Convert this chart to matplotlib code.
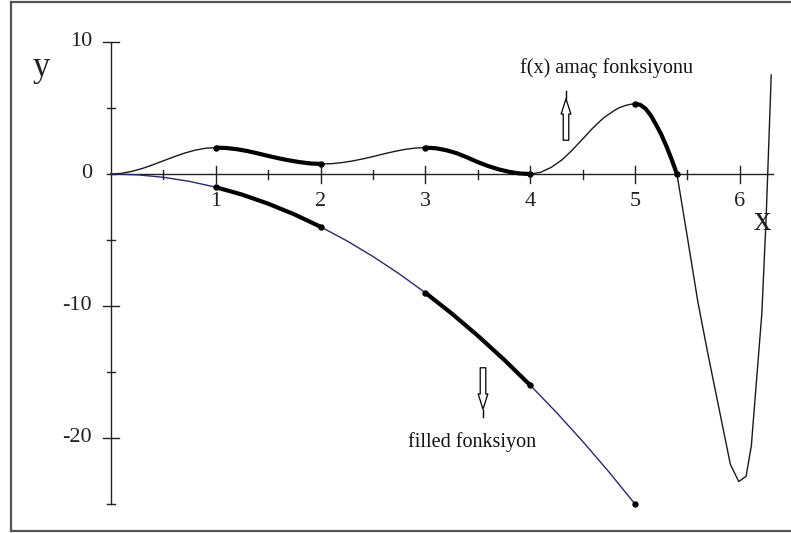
import numpy as np
import matplotlib
matplotlib.use("Agg")
import matplotlib.pyplot as plt
from matplotlib.lines import Line2D
from matplotlib.patches import FancyArrowPatch

plt.rcParams['font.family'] = ['Liberation Serif', 'DejaVu Serif']

# ---- data ----
upper_x = [0.0, 0.1, 0.2, 0.3, 0.4, 0.5, 0.6, 0.7, 0.8, 0.9,
           1.0, 1.1, 1.2, 1.3, 1.4, 1.5, 1.6, 1.7, 1.8, 1.9,
           2.0, 2.1, 2.2, 2.3, 2.4, 2.5, 2.6, 2.7, 2.8, 2.9,
           3.0, 3.1, 3.2, 3.3, 3.4, 3.5, 3.6, 3.7, 3.8, 3.9,
           4.0, 4.1, 4.2, 4.3, 4.4, 4.5, 4.6, 4.7, 4.8, 4.85, 4.9, 4.95,
           5.0, 5.05, 5.1, 5.15, 5.2, 5.25, 5.3, 5.35, 5.4, 5.45, 5.5, 5.6, 5.7, 5.8, 5.91,
           5.99, 6.06, 6.11, 6.16, 6.21, 6.25, 6.3]
upper_y = [0.0, 0.05, 0.2, 0.42, 0.7, 1.0, 1.3, 1.58, 1.8, 1.95,
           2.0, 1.97, 1.88, 1.74, 1.56, 1.37, 1.19, 1.03, 0.9, 0.8,
           0.76, 0.78, 0.86, 0.98, 1.14, 1.32, 1.52, 1.7, 1.86, 1.96,
           2.0, 1.95, 1.8, 1.57, 1.25, 0.9, 0.6, 0.35, 0.16, 0.04,
           0.0, 0.13, 0.5, 1.05, 1.8, 2.65, 3.5, 4.25, 4.8, 5.02, 5.17, 5.27,
           5.32, 5.24, 4.95, 4.45, 3.75, 3.0, 2.1, 1.1, 0.0, -2.4, -4.8, -9.7, -13.8, -17.7, -22.0,
           -23.3, -22.9, -20.6, -15.6, -10.6, -3.6, 7.5]

lower_x = [0.0, 0.25, 0.5, 0.75, 1.0, 1.25, 1.5, 1.75, 2.0, 2.25,
           2.5, 2.75, 3.0, 3.25, 3.5, 3.75, 4.0, 4.25, 4.5, 4.75, 5.0]
lower_y = [0.0, -0.06, -0.25, -0.56, -1.0, -1.56, -2.25, -3.06, -4.0, -5.06,
           -6.25, -7.56, -9.0, -10.56, -12.25, -14.06, -16.0, -18.06, -20.25, -22.56, -25.0]

upper_thick = [(1.0, 2.0), (3.0, 4.0), (5.0, 5.4)]
lower_thick = [(1.0, 2.0), (3.0, 4.0)]
upper_dots = [1.0, 2.0, 3.0, 4.0, 5.0, 5.4]
lower_dots = [1.0, 2.0, 3.0, 4.0, 5.0]

x_ticklabels = ['1', '2', '3', '4', '5', '6']
y_ticklabels = ['10', '0', '-10', '-20']
y_label_vals = [10, 0, -10, -20]

# ---- figure ----
W, H = 791, 533
fig = plt.figure(figsize=(W / 100, H / 100), dpi=100)
ax = fig.add_axes([0, 0, 1, 1])
ax.set_axis_off()
x0px, y0px = 111.0, 174.0
sx, sy = 104.8, 13.2
ax.set_xlim(-x0px / sx, (W - x0px) / sx)
ax.set_ylim((y0px - H) / sy, y0px / sy)

ux = np.array(upper_x); uy = np.array(upper_y)
lx = np.array(lower_x); ly = np.array(lower_y)

ax_col = '#222222'
# axes lines
ax.plot([0, 6.32], [0, 0], color=ax_col, lw=1.0)
ax.plot([0, 0], [-25, 10], color=ax_col, lw=1.0)
# x ticks
for t in np.arange(0.5, 6.01, 0.5):
    if abs(t - round(t)) < 1e-9:
        ax.plot([t, t], [8 / sy, -9 / sy], color=ax_col, lw=1.0)
    else:
        ax.plot([t, t], [4.5 / sy, -4.5 / sy], color=ax_col, lw=1.0)
# y ticks
for t in np.arange(-25, 10.01, 5):
    if t in (10, -10, -20):
        ax.plot([-8 / sx, 8 / sx], [t, t], color=ax_col, lw=1.0)
    else:
        ax.plot([-4.5 / sx, 4 / sx], [t, t], color=ax_col, lw=1.0)

fs = 16
for i, lab in enumerate(x_ticklabels):
    ax.text(i + 1, -27 / sy, lab, ha='center', va='center', fontsize=fs, color='#222222')
for v, lab in zip(y_label_vals, y_ticklabels):
    ax.text(-19 / sx, v, lab, ha='right', va='center', fontsize=fs, color='#222222')

ax.text(-70 / sx, (y0px - 67) / sy, 'y', ha='center', va='center', fontsize=25, color='#222222')
ax.text((762 - x0px) / sx, (y0px - 222) / sy, 'x', ha='center', va='center', fontsize=25, color='#222222')

# curves
ax.plot(ux, uy, color='#1a1a1a', lw=1.0)
ax.plot(lx, ly, color='#2a2a66', lw=1.0)
for a, b in upper_thick:
    m = (ux >= a - 1e-9) & (ux <= b + 1e-9)
    ax.plot(ux[m], uy[m], color='black', lw=3.0, solid_capstyle='butt')
for a, b in lower_thick:
    m = (lx >= a - 1e-9) & (lx <= b + 1e-9)
    ax.plot(lx[m], ly[m], color='black', lw=3.0, solid_capstyle='butt')
ud = [uy[np.argmin(np.abs(ux - d))] for d in upper_dots]
ld = [ly[np.argmin(np.abs(lx - d))] for d in lower_dots]
ax.plot(upper_dots, ud, 'o', color='black', ms=3.6)
ax.plot(lower_dots, ld, 'o', color='black', ms=3.6)

# annotations
ax.text((606 - x0px) / sx, (y0px - 68) / sy, 'f(x) amaç fonksiyonu', ha='center', va='center',
        fontsize=14.5, color='#111111')
ax.text((472 - x0px) / sx, (y0px - 442) / sy, 'filled fonksiyon', ha='center', va='center',
        fontsize=14.5, color='#111111')

def px(xp, yp):
    return ((xp - x0px) / sx, (y0px - yp) / sy)

arr_style = "simple,head_width=7,head_length=11,tail_width=4"
a1 = FancyArrowPatch(px(566, 143), px(566, 96), arrowstyle=arr_style,
                     facecolor='white', edgecolor='black', lw=0.9, mutation_scale=1)
ax.add_patch(a1)
ax.plot(*zip(px(566, 98), px(566, 91)), color='black', lw=1.0)
a2 = FancyArrowPatch(px(483, 365), px(483, 412), arrowstyle=arr_style,
                     facecolor='white', edgecolor='black', lw=0.9, mutation_scale=1)
ax.add_patch(a2)
ax.plot(*zip(px(483, 410), px(483, 417)), color='black', lw=1.0)

# frame
fc = '#555555'
fig.add_artist(Line2D([11 / W, 11 / W], [1 - 1.5 / H, 1 - 531 / H], transform=fig.transFigure, color=fc, lw=1.6))
fig.add_artist(Line2D([11 / W, 1], [1 - 1.5 / H, 1 - 1.5 / H], transform=fig.transFigure, color=fc, lw=1.6))
fig.add_artist(Line2D([11 / W, 1], [1 - 531 / H, 1 - 531 / H], transform=fig.transFigure, color=fc, lw=1.6))

fig.savefig('out.png', dpi=100)
